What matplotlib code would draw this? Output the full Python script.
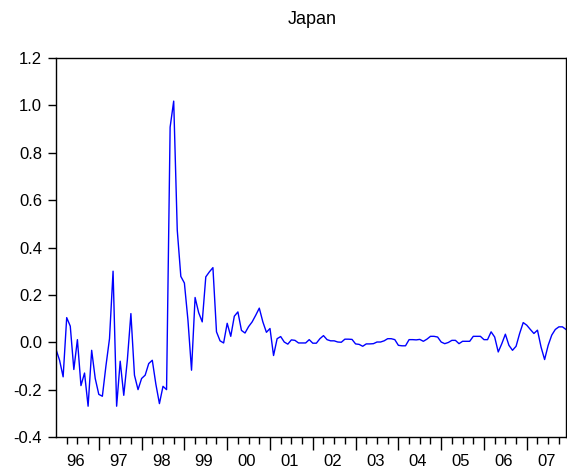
import matplotlib
matplotlib.use("Agg")
import matplotlib.pyplot as plt
import numpy as np

title = "Japan"
year_labels = ["96", "97", "98", "99", "00", "01", "02", "03", "04", "05", "06", "07"]
y_ticks = [-0.4, -0.2, 0.0, 0.2, 0.4, 0.6, 0.8, 1.0, 1.2]

# monthly values, Jan 1996 .. Dec 2007
values = [
    -0.030, -0.076, -0.146, 0.104, 0.068, -0.115, 0.011, -0.183, -0.130, -0.270, -0.034, -0.153,   # 1996
    -0.220, -0.228, -0.100, 0.015, 0.300, -0.270, -0.080, -0.224, -0.076, 0.121, -0.139, -0.200,   # 1997
    -0.153, -0.139, -0.090, -0.076, -0.177, -0.259, -0.186, -0.200, 0.908, 1.018, 0.473, 0.278,    # 1998
    0.250, 0.093, -0.118, 0.189, 0.125, 0.086, 0.276, 0.297, 0.315, 0.044, 0.006, -0.003,          # 1999
    0.080, 0.025, 0.110, 0.128, 0.050, 0.039, 0.066, 0.086, 0.114, 0.144, 0.086, 0.042,            # 2000
    0.058, -0.056, 0.015, 0.024, 0.001, -0.008, 0.010, 0.008, -0.003, -0.003, -0.003, 0.011,       # 2001
    -0.004, -0.004, 0.015, 0.028, 0.011, 0.006, 0.006, 0.001, 0.000, 0.013, 0.013, 0.012,         # 2002
    -0.007, -0.009, -0.017, -0.007, -0.007, -0.006, 0.001, 0.001, 0.006, 0.015, 0.015, 0.011,     # 2003
    -0.013, -0.015, -0.015, 0.011, 0.011, 0.010, 0.012, 0.004, 0.013, 0.025, 0.025, 0.022,        # 2004
    0.001, -0.006, -0.001, 0.008, 0.008, -0.006, 0.004, 0.004, 0.004, 0.025, 0.025, 0.025,        # 2005
    0.011, 0.011, 0.044, 0.022, -0.041, -0.006, 0.034, -0.013, -0.034, -0.017, 0.037, 0.083,     # 2006
    0.072, 0.054, 0.037, 0.051, -0.020, -0.073, -0.013, 0.030, 0.054, 0.065, 0.065, 0.054,        # 2007
]

plt.rcParams["font.family"] = ["Liberation Sans", "DejaVu Sans"]
plt.rcParams["axes.unicode_minus"] = False

fig = plt.figure(figsize=(5.67, 4.72), dpi=100)
ax = fig.add_axes([56 / 567, 35 / 472, 510 / 567, 379 / 472])

x = np.arange(len(values))
ax.plot(x, values, color="#0000ff", linewidth=1.0)

ax.set_xlim(0, len(values) - 1)
ax.set_ylim(-0.4, 1.2)
ax.set_yticks(y_ticks)
ax.set_yticklabels([f"{v:.1f}" for v in y_ticks], fontsize=12)

n_years = len(year_labels)
ax.set_xticks([12 * k for k in range(1, n_years)])
ax.set_xticklabels([])
ax.set_xticks([q for q in range(0, len(values), 3) if q % 12 != 0], minor=True)
ax.tick_params(axis="x", which="major", direction="out", length=9, width=1)
ax.tick_params(axis="x", which="minor", direction="out", length=5, width=1)
ax.tick_params(axis="y", direction="out", length=6, width=1, pad=4)

trans = ax.get_xaxis_transform()
for k, lab in enumerate(year_labels):
    ax.text(12 * k + 5.5, -0.064, lab, transform=trans, ha="center", va="center", fontsize=12)

for s in ax.spines.values():
    s.set_linewidth(1.0)
    s.set_color("black")

fig.text(312 / 567, 1 - 20 / 472, title, ha="center", va="center", fontsize=13)

fig.savefig("out.png", dpi=100)
